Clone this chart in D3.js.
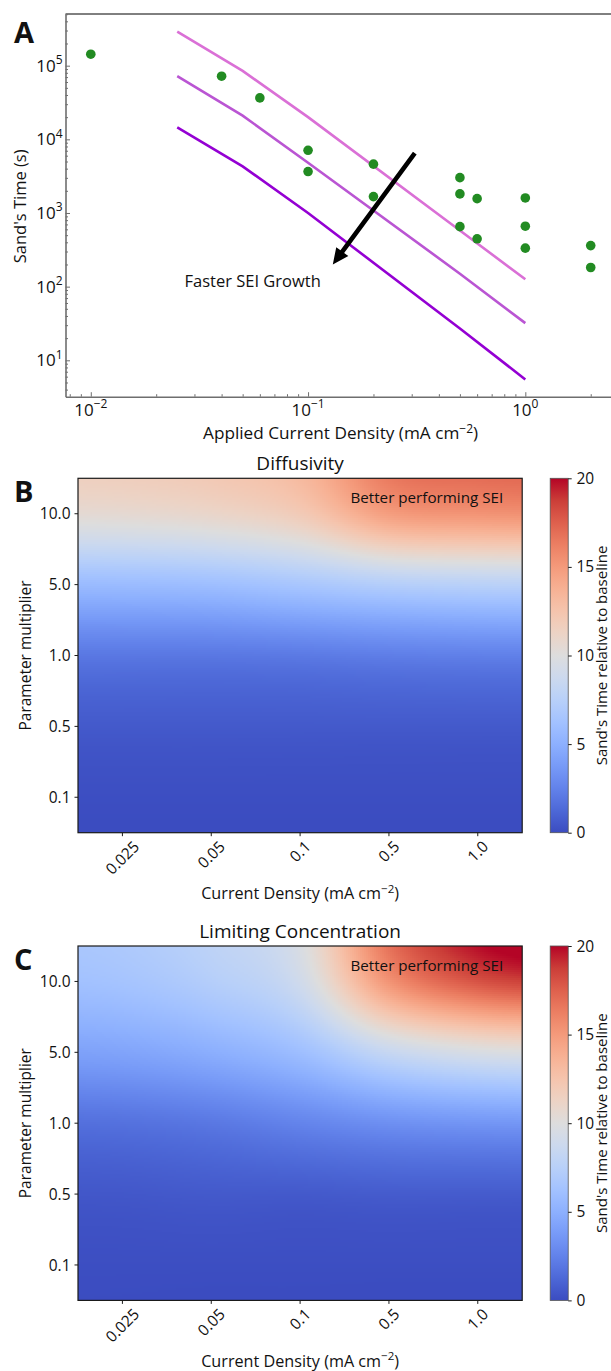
<!DOCTYPE html>
<html><head><meta charset="utf-8">
<script src="https://cdn.jsdelivr.net/npm/d3@7"></script>
<style>
body{margin:0;background:#fff}
svg{display:block}
text{font-family:'Open Sans',sans-serif;fill:#111}
</style>
</head><body>
<svg id="chart" width="611" height="1371"></svg>
<script>
// ---------------- DATA ----------------
// Panel A: experimental Sand's times (scatter)
const expCurrents = [0.01, 0.04, 0.06, 0.1, 0.1, 0.2, 0.2, 0.5, 0.5, 0.5, 0.6, 0.6, 1.0, 1.0, 1.0, 2.0, 2.0];
const expTimes    = [1.43e5, 7.2e4, 3.65e4, 7100, 3650, 4600, 1670, 3020, 1815, 653, 1566, 446, 1600, 662, 333, 361, 182];
// Panel A: model curves
const modelCurrents = [0.025, 0.05, 0.1, 0.5, 1.0];
const modelSlowSEI  = [2.9e5, 8.5e4, 2.0e4, 580, 126];
const modelMidSEI   = [7.2e4, 2.1e4, 4800, 150, 32];
const modelFastSEI  = [1.45e4, 4300, 1000, 27, 5.5];
const modelColors   = ["#da70d6", "#ba55d3", "#9400d3"];
const xTicksA = [0.01, 0.1, 1];
const xTickExpA = ["\u22122", "\u22121", "0"];
const yTicksA = [10, 100, 1000, 10000, 100000];
const yTickExpA = ["1", "2", "3", "4", "5"];
const arrowFrom = [0.31, 6500];
const arrowTo = [0.13, 200];
const arrowLabelAt = [0.027, 100];

// Panels B and C: heatmaps (rows top->bottom = multipliers, cols = current densities)
const heatCurrents = ["0.025", "0.05", "0.1", "0.5", "1.0"];
const multipliers  = ["10.0", "5.0", "1.0", "0.5", "0.1"];
const diffusivityGrid = [
  [10.6, 11.0, 12.0, 14.8, 15.3],
  [5.8, 6.0, 6.6, 7.3, 7.6],
  [2.0, 2.0, 2.1, 2.3, 2.4],
  [0.6, 0.6, 0.6, 0.6, 0.6],
  [0.1, 0.1, 0.1, 0.1, 0.1]
];
const limitingGrid = [
  [6.4, 7.3, 9.0, 15.3, 18.0],
  [4.3, 4.9, 6.0, 8.4, 9.6],
  [1.7, 2.0, 2.6, 3.2, 3.5],
  [0.5, 0.6, 0.6, 0.7, 0.7],
  [0.1, 0.1, 0.1, 0.1, 0.1]
];
const colorbarTicks = [0, 5, 10, 15, 20];
const colorDomain = [0, 20];

// coolwarm colormap anchors (0..1 in steps of 1/16)
const coolwarmStops = [
  [59,76,192],[77,104,215],[98,130,234],[119,154,247],[141,176,254],[163,194,255],
  [184,208,249],[204,217,238],[221,221,221],[236,211,197],[245,196,173],[247,177,148],
  [244,154,123],[236,127,99],[222,96,77],[203,62,56],[180,4,38]
];

// ---------------- DRAW ----------------
const svg = d3.select("#chart");
const coolwarm = d3.piecewise(d3.interpolateRgb, coolwarmStops.map(c => d3.rgb(c[0], c[1], c[2])));
const color = d3.scaleSequential(coolwarm).domain(colorDomain).clamp(true);

// ===== Panel A =====
const A = {left: 65.5, right: 615.7, top: 14, bottom: 396.7};
const xA = d3.scaleLog().domain([Math.pow(10, -2.1164), Math.pow(10, 0.416)]).range([A.left, A.right]);
const yA = d3.scaleLog().domain([Math.pow(10, 0.506), Math.pow(10, 5.7015)]).range([A.bottom, A.top]);
const gA = svg.append("g");

// top spine
gA.append("line").attr("x1", A.left).attr("x2", A.right).attr("y1", A.top).attr("y2", A.top)
  .attr("stroke", "#000").attr("stroke-width", 1);

// x axis (ticks inward)
const minorX = xA.ticks().filter(v => xTicksA.indexOf(v) < 0);
gA.append("g").attr("transform", `translate(0,${A.bottom})`)
  .call(d3.axisBottom(xA).tickValues(xTicksA).tickSize(-4.5).tickSizeOuter(0).tickFormat(""));
gA.append("g").attr("transform", `translate(0,${A.bottom})`)
  .call(d3.axisBottom(xA).tickValues(minorX).tickSize(-2.5).tickSizeOuter(0).tickFormat(""))
  .select(".domain").remove();
// y axis
const minorY = yA.ticks().filter(v => yTicksA.indexOf(v) < 0);
gA.append("g").attr("transform", `translate(${A.left},0)`)
  .call(d3.axisLeft(yA).tickValues(yTicksA).tickSize(-4.5).tickSizeOuter(0).tickFormat(""));
gA.append("g").attr("transform", `translate(${A.left},0)`)
  .call(d3.axisLeft(yA).tickValues(minorY).tickSize(-2.5).tickSizeOuter(0).tickFormat(""))
  .select(".domain").remove();
gA.selectAll(".domain").attr("stroke", "#6e6e6e").attr("stroke-width", 1.6);
gA.selectAll(".tick line").attr("stroke", "#6e6e6e").attr("stroke-width", 1);

// x tick labels 10^n
xTicksA.forEach((v, i) => {
  const t = gA.append("text").attr("x", xA(v)).attr("y", A.bottom + 19)
    .attr("text-anchor", "middle").attr("font-size", 17);
  t.append("tspan").text("10");
  t.append("tspan").attr("dy", -7.5).attr("font-size", 12).text(xTickExpA[i]);
});
yTicksA.forEach((v, i) => {
  const t = gA.append("text").attr("x", 62.5).attr("y", yA(v) + 6)
    .attr("text-anchor", "end").attr("font-size", 17);
  t.append("tspan").text("10");
  t.append("tspan").attr("dy", -7.5).attr("font-size", 12).text(yTickExpA[i]);
});
// axis labels
const xlabA = gA.append("text").attr("x", (A.left + A.right) / 2).attr("y", 439)
  .attr("text-anchor", "middle").attr("font-size", 17.2);
xlabA.append("tspan").text("Applied Current Density (mA cm");
xlabA.append("tspan").attr("dy", -6.5).attr("font-size", 12).text("\u22122");
xlabA.append("tspan").attr("dy", 6.5).text(")");
gA.append("text").attr("transform", `translate(25.5,${(A.top + A.bottom) / 2 + 1}) rotate(-90)`)
  .attr("text-anchor", "middle").attr("font-size", 16.5).text("Sand's Time (s)");

// model lines
const lineGen = d3.line().x(d => xA(d[0])).y(d => yA(d[1]));
[modelSlowSEI, modelMidSEI, modelFastSEI].forEach((ser, i) => {
  gA.append("path").datum(d3.zip(modelCurrents, ser)).attr("d", lineGen)
    .attr("fill", "none").attr("stroke", modelColors[i]).attr("stroke-width", 2.6);
});
// scatter
gA.selectAll("circle.exp").data(d3.zip(expCurrents, expTimes)).join("circle")
  .attr("class", "exp").attr("cx", d => xA(d[0])).attr("cy", d => yA(d[1]))
  .attr("r", 4.8).attr("fill", "#228b22");

// arrow
(function () {
  const x0 = xA(arrowFrom[0]), y0 = yA(arrowFrom[1]);
  const x1 = xA(arrowTo[0]), y1 = yA(arrowTo[1]);
  const dx = x1 - x0, dy = y1 - y0, L = Math.hypot(dx, dy);
  const ux = dx / L, uy = dy / L, nx = -uy, ny = ux;
  const hw = 7.5, hl = 16, sw = 2.3;
  const bx = x1 - ux * hl, by = y1 - uy * hl;
  const pts = [
    [x0 + nx * sw, y0 + ny * sw], [bx + nx * sw, by + ny * sw], [bx + nx * hw, by + ny * hw],
    [x1, y1], [bx - nx * hw, by - ny * hw], [bx - nx * sw, by - ny * sw], [x0 - nx * sw, y0 - ny * sw]
  ];
  gA.append("path").attr("d", "M" + pts.map(p => p.join(",")).join("L") + "Z").attr("fill", "#000");
})();
gA.append("text").attr("x", xA(arrowLabelAt[0])).attr("y", yA(arrowLabelAt[1]))
  .attr("font-size", 16.5).text("Faster SEI Growth");

// panel letter
svg.append("text").attr("x", 14).attr("y", 42.5).attr("font-size", 29).attr("font-weight", 700).text("A");

// ===== Heatmap panels =====
function extendGrid(M, k) {
  const ext1 = (arr) => {
    const n = arr.length, out = [];
    for (let i = -2; i < n + 2; i++) {
      if (i < 0) out.push(arr[0] + (-i) * k * (arr[0] - arr[1]));
      else if (i >= n) out.push(arr[n - 1] + (i - n + 1) * k * (arr[n - 1] - arr[n - 2]));
      else out.push(arr[i]);
    }
    return out;
  };
  const rowsExt = M.map(r => ext1(r));
  const cols = rowsExt[0].length;
  const colExt = [];
  for (let c = 0; c < cols; c++) colExt.push(ext1(rowsExt.map(r => r[c])));
  const out = [];
  for (let r = 0; r < colExt[0].length; r++) out.push(colExt.map(col => col[r]));
  return out;
}
function cr(p0, p1, p2, p3, t) {
  return 0.5 * (2 * p1 + (-p0 + p2) * t + (2 * p0 - 5 * p1 + 4 * p2 - p3) * t * t + (-p0 + 3 * p1 - 3 * p2 + p3) * t * t * t);
}
function bicubic(E, v, u) {
  const r = Math.floor(v), c = Math.floor(u), tv = v - r, tu = u - c;
  const vals = [];
  for (let i = -1; i <= 2; i++) {
    const row = E[r + i + 2];
    vals.push(cr(row[c + 1], row[c + 2], row[c + 3], row[c + 4], tu));
  }
  return cr(vals[0], vals[1], vals[2], vals[3], tv);
}

function heatPanel(cfg) {
  const g = svg.append("g");
  const x = d3.scaleBand().domain(heatCurrents).range([cfg.left, cfg.right]);
  const y = d3.scaleBand().domain(multipliers).range([cfg.top, cfg.bottom]);
  const E = extendGrid(cfg.grid, 0.35);
  const step = 2;
  const cells = [];
  for (let py = Math.floor(cfg.top); py < cfg.bottom; py += step) {
    for (let px = Math.floor(cfg.left); px < cfg.right; px += step) {
      const u = Math.min(Math.max((px + step / 2 - cfg.left) / x.bandwidth() - 0.5, -0.5), 4.5);
      const v = Math.min(Math.max((py + step / 2 - cfg.top) / y.bandwidth() - 0.5, -0.5), 4.5);
      cells.push({px, py, val: bicubic(E, v, u)});
    }
  }
  const clipId = "clip" + cfg.id;
  g.append("clipPath").attr("id", clipId).append("rect")
    .attr("x", cfg.left).attr("y", cfg.top).attr("width", cfg.right - cfg.left).attr("height", cfg.bottom - cfg.top);
  g.append("g").attr("clip-path", `url(#${clipId})`).attr("shape-rendering", "crispEdges")
    .selectAll("rect").data(cells).join("rect")
    .attr("x", d => d.px).attr("y", d => d.py).attr("width", step).attr("height", step)
    .attr("fill", d => color(d.val));
  // frame
  g.append("rect").attr("x", cfg.left).attr("y", cfg.top).attr("width", cfg.right - cfg.left)
    .attr("height", cfg.bottom - cfg.top).attr("fill", "none").attr("stroke", "#1a1a1a").attr("stroke-width", 1.2);
  // x axis
  const ax = g.append("g").attr("transform", `translate(0,${cfg.bottom})`)
    .call(d3.axisBottom(x).tickSize(3.5).tickSizeOuter(0).tickFormat(""));
  ax.select(".domain").remove();
  ax.selectAll(".tick line").attr("stroke", "#1a1a1a");
  heatCurrents.forEach(c => {
    const t = g.append("text").attr("font-size", 15.5).attr("text-anchor", "middle").text(c);
    const w = t.node().getComputedTextLength();
    const h = 11.5;
    const bb = (w + h) * Math.SQRT1_2;
    const cx = x(c) + x.bandwidth() / 2, cy = cfg.bottom + 7 + bb / 2;
    t.attr("transform", `translate(${cx},${cy}) rotate(-45)`).attr("dy", "0.35em");
  });
  // y axis
  const ay = g.append("g").attr("transform", `translate(${cfg.left},0)`)
    .call(d3.axisLeft(y).tickSize(3.5).tickSizeOuter(0).tickFormat(""));
  ay.select(".domain").remove();
  ay.selectAll(".tick line").attr("stroke", "#1a1a1a");
  multipliers.forEach(m => {
    g.append("text").attr("x", cfg.left - 7.5).attr("y", y(m) + y.bandwidth() / 2).attr("dy", "0.36em")
      .attr("text-anchor", "end").attr("font-size", 15.5).text(m);
  });
  // labels
  const xl = g.append("text").attr("x", (cfg.left + cfg.right) / 2).attr("y", cfg.bottom + 66.5)
    .attr("text-anchor", "middle").attr("font-size", 16.2);
  xl.append("tspan").text("Current Density (mA cm");
  xl.append("tspan").attr("dy", -6.5).attr("font-size", 11.5).text("\u22122");
  xl.append("tspan").attr("dy", 6.5).text(")");
  g.append("text").attr("transform", `translate(31,${(cfg.top + cfg.bottom) / 2}) rotate(-90)`)
    .attr("text-anchor", "middle").attr("font-size", 15.5).text("Parameter multiplier");
  g.append("text").attr("x", (cfg.left + cfg.right) / 2).attr("y", cfg.top - 8)
    .attr("text-anchor", "middle").attr("font-size", 19).text(cfg.title);
  g.append("text").attr("x", cfg.right - 19).attr("y", cfg.top + 25)
    .attr("text-anchor", "end").attr("font-size", 15.2).text("Better performing SEI");
  g.append("text").attr("x", 14).attr("y", cfg.top + 24).attr("font-size", 29).attr("font-weight", 700).text(cfg.letter);

  // colorbar
  const cb = {left: 550.2, right: 568.2};
  const yc = d3.scaleLinear().domain(colorDomain).range([cfg.bottom, cfg.top]);
  const gradId = "grad" + cfg.id;
  const grad = g.append("linearGradient").attr("id", gradId).attr("x1", 0).attr("x2", 0).attr("y1", 1).attr("y2", 0);
  d3.range(0, 1.0001, 1 / 32).forEach(f => {
    grad.append("stop").attr("offset", f).attr("stop-color", color(colorDomain[0] + f * (colorDomain[1] - colorDomain[0])));
  });
  g.append("rect").attr("x", cb.left).attr("y", cfg.top).attr("width", cb.right - cb.left)
    .attr("height", cfg.bottom - cfg.top).attr("fill", `url(#${gradId})`)
    .attr("stroke", "#555").attr("stroke-width", 0.8);
  const ac = g.append("g").attr("transform", `translate(${cb.right},0)`)
    .call(d3.axisRight(yc).tickValues(colorbarTicks).tickSize(3.5).tickFormat(""));
  ac.select(".domain").remove();
  ac.selectAll(".tick line").attr("stroke", "#1a1a1a");
  colorbarTicks.forEach(v => {
    g.append("text").attr("x", 576.5).attr("y", yc(v)).attr("dy", "0.36em").attr("font-size", 15.5).text(v);
  });
  g.append("text").attr("transform", `translate(606.5,${(cfg.top + cfg.bottom) / 2}) rotate(-90)`)
    .attr("text-anchor", "middle").attr("font-size", 15).text("Sand's Time relative to baseline");
}

heatPanel({id: "B", letter: "B", title: "Diffusivity", grid: diffusivityGrid,
  left: 78, right: 522.2, top: 478.3, bottom: 832.7});
heatPanel({id: "C", letter: "C", title: "Limiting Concentration", grid: limitingGrid,
  left: 78, right: 522.2, top: 946, bottom: 1300.4});
</script>
</body></html>
